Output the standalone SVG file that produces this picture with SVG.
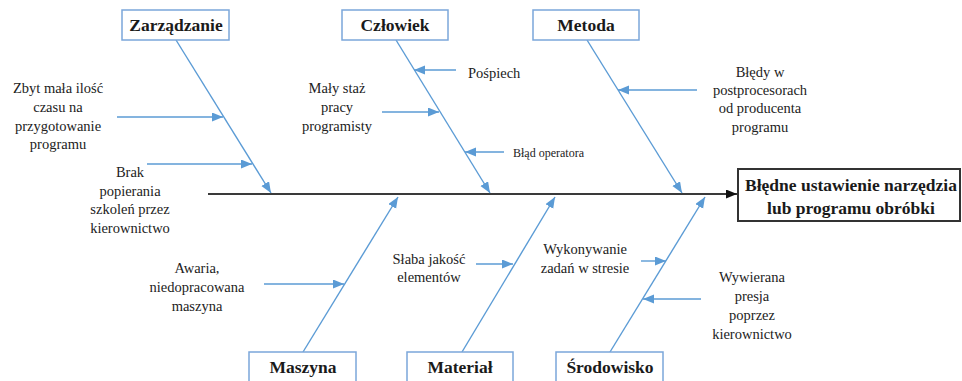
<svg xmlns="http://www.w3.org/2000/svg" width="962" height="381" viewBox="0 0 962 381">
<style>
.cat{fill:#fff;stroke:#7ba7da;stroke-width:1.5}
.ct{font-family:"Liberation Serif","DejaVu Serif",serif;font-weight:bold;font-size:17.5px;fill:#1a1a1a;text-anchor:middle}
.lb{font-family:"Liberation Serif","DejaVu Serif",serif;font-size:14.5px;fill:#222;text-anchor:middle}
.ls{font-family:"Liberation Serif","DejaVu Serif",serif;font-size:14.5px;fill:#222;text-anchor:start}
.sm{font-family:"Liberation Serif","DejaVu Serif",serif;font-size:12px;fill:#222;text-anchor:start}
.bone{stroke:#5b9bd5;stroke-width:1.4;fill:none;marker-end:url(#ab)}
.spine{stroke:#3a3a3a;stroke-width:2;fill:none;marker-end:url(#ak)}
</style>
<defs>
<marker id="ab" markerUnits="userSpaceOnUse" markerWidth="12" markerHeight="10" refX="11" refY="4.5" orient="auto"><path d="M0,0 L11,4.5 L0,9 z" fill="#5b9bd5"/></marker>
<marker id="ak" markerUnits="userSpaceOnUse" markerWidth="12" markerHeight="10" refX="11" refY="4.5" orient="auto"><path d="M0,0 L11,4.5 L0,9 z" fill="#111"/></marker>
</defs>
<rect width="962" height="381" fill="#fff"/>
<g id="connectors">
<line class="spine" x1="208" y1="194" x2="737" y2="194"/>
<line class="bone" x1="176" y1="40" x2="271" y2="193"/>
<line class="bone" x1="396" y1="40" x2="490" y2="193"/>
<line class="bone" x1="587" y1="40" x2="682" y2="193"/>
<line class="bone" x1="303" y1="352" x2="398" y2="197"/>
<line class="bone" x1="462" y1="352" x2="555" y2="197"/>
<line class="bone" x1="610" y1="352" x2="705" y2="197"/>
<line class="bone" x1="117" y1="117" x2="223" y2="117"/>
<line class="bone" x1="147" y1="164" x2="252" y2="164"/>
<line class="bone" x1="456" y1="70" x2="414" y2="70"/>
<line class="bone" x1="382" y1="112" x2="439" y2="112"/>
<line class="bone" x1="504" y1="152" x2="465" y2="152"/>
<line class="bone" x1="697" y1="90" x2="618" y2="90"/>
<line class="bone" x1="264" y1="284" x2="344" y2="284"/>
<line class="bone" x1="476" y1="264" x2="513" y2="264"/>
<line class="bone" x1="641" y1="261" x2="666" y2="261"/>
<line class="bone" x1="701" y1="299" x2="643" y2="299"/>
</g>
<g id="zarzadzanie"><rect class="cat" x="122" y="10" width="107" height="30"/><text class="ct" x="176" y="31">Zarządzanie</text></g>
<g id="czlowiek"><rect class="cat" x="342" y="10" width="106" height="30"/><text class="ct" x="395" y="31">Człowiek</text></g>
<g id="metoda"><rect class="cat" x="533" y="10" width="106" height="30"/><text class="ct" x="586" y="31">Metoda</text></g>
<g id="maszyna"><rect class="cat" x="249" y="352" width="107" height="34"/><text class="ct" x="303" y="373">Maszyna</text></g>
<g id="material"><rect class="cat" x="407" y="352" width="106" height="34"/><text class="ct" x="460" y="373">Materiał</text></g>
<g id="srodowisko"><rect class="cat" x="556" y="352" width="107" height="34"/><text class="ct" x="610" y="373">Środowisko</text></g>
<g id="effect"><rect x="738" y="169" width="222" height="52" fill="#fff" stroke="#333" stroke-width="2"/><text class="ct" x="851" y="191">Błędne ustawienie narzędzia</text><text class="ct" x="851" y="214">lub programu obróbki</text></g>
<g id="c1"><text class="lb" x="58" y="93">Zbyt mała ilość</text><text class="lb" x="58" y="112">czasu na</text><text class="lb" x="58" y="131">przygotowanie</text><text class="lb" x="58" y="149">programu</text></g>
<g id="c2"><text class="lb" x="130" y="177">Brak</text><text class="lb" x="130" y="196">popierania</text><text class="lb" x="130" y="214">szkoleń przez</text><text class="lb" x="130" y="233">kierownictwo</text></g>
<g id="c3"><text class="ls" x="468" y="78">Pośpiech</text></g>
<g id="c4"><text class="lb" x="337" y="93">Mały staż</text><text class="lb" x="337" y="112">pracy</text><text class="lb" x="337" y="131">programisty</text></g>
<g id="c5"><text class="sm" x="513" y="157">Błąd operatora</text></g>
<g id="c6"><text class="lb" x="760" y="77">Błędy w</text><text class="lb" x="760" y="95">postprocesorach</text><text class="lb" x="760" y="113">od producenta</text><text class="lb" x="760" y="132">programu</text></g>
<g id="c7"><text class="lb" x="197" y="273">Awaria,</text><text class="lb" x="197" y="292">niedopracowana</text><text class="lb" x="197" y="311">maszyna</text></g>
<g id="c8"><text class="lb" x="429" y="264">Słaba jakość</text><text class="lb" x="429" y="282">elementów</text></g>
<g id="c9"><text class="lb" x="585" y="254">Wykonywanie</text><text class="lb" x="585" y="273">zadań w stresie</text></g>
<g id="c10"><text class="lb" x="752" y="282">Wywierana</text><text class="lb" x="752" y="301">presja</text><text class="lb" x="752" y="320">poprzez</text><text class="lb" x="752" y="339">kierownictwo</text></g>
</svg>
